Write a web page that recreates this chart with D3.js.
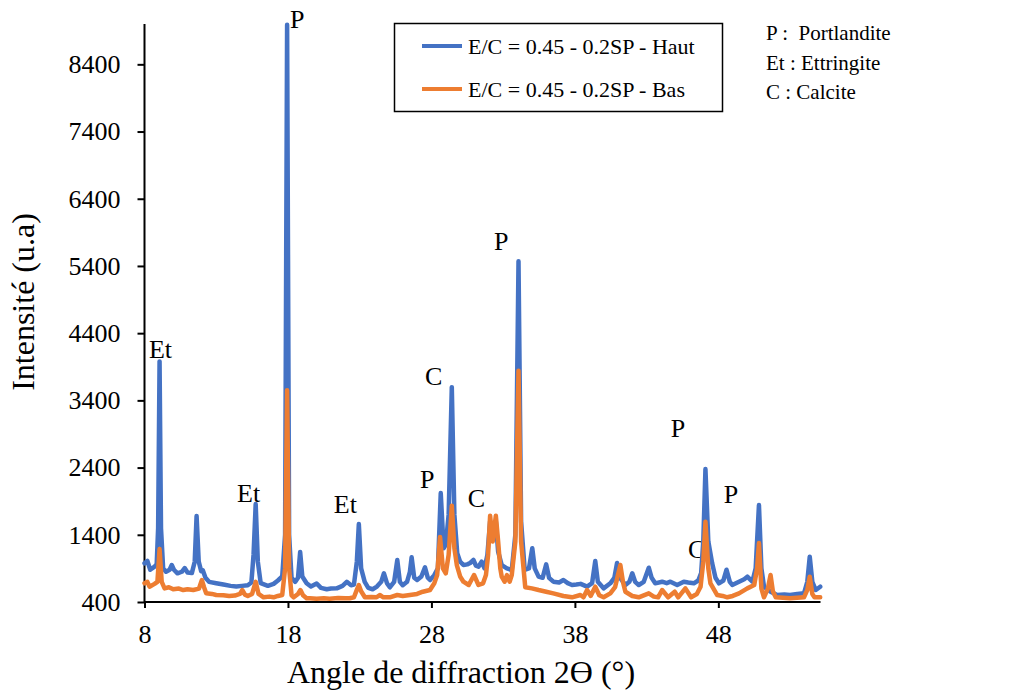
<!DOCTYPE html>
<html>
<head>
<meta charset="utf-8">
<script src="https://cdn.jsdelivr.net/npm/d3@7"></script>
<style>
  html, body { margin: 0; padding: 0; background: #fff; }
  svg { display: block; font-family: "Liberation Serif", "Times New Roman", serif; }
</style>
</head>
<body>
<svg id="chart" width="1019" height="693"></svg>
<script>
// ---------- DATA ----------
const seriesNames = ["E/C = 0.45 - 0.2SP - Haut", "E/C = 0.45 - 0.2SP - Bas"];
const seriesColors = ["#4472C4", "#ED7D31"];

const anglesHaut = [8.0,8.2,8.4,8.7,8.85,8.95,9.05,9.15,9.3,9.5,9.75,9.9,10.05,10.3,10.6,10.8,11.0,11.3,11.5,11.63,11.78,11.95,12.07,12.25,12.5,13.0,13.5,14.0,14.4,14.8,15.2,15.45,15.6,15.75,15.9,16.1,16.6,17.0,17.3,17.6,17.8,17.94,18.08,18.25,18.5,18.7,18.85,19.0,19.3,19.6,20.0,20.3,20.7,21.0,21.4,21.8,22.1,22.4,22.6,22.8,22.94,23.1,23.35,23.6,23.9,24.2,24.5,24.69,24.9,25.1,25.4,25.62,25.8,26.0,26.3,26.5,26.62,26.8,27.0,27.3,27.55,27.75,27.9,28.2,28.45,28.65,28.85,29.0,29.2,29.42,29.6,29.8,30.0,30.23,30.5,30.7,30.93,31.1,31.28,31.5,31.7,31.9,32.09,32.3,32.49,32.65,32.9,33.26,33.6,33.85,34.07,34.25,34.5,34.8,35.03,35.2,35.47,35.75,36.0,36.2,36.5,36.9,37.2,37.5,37.8,38.1,38.4,38.85,39.2,39.42,39.6,40.0,40.47,40.75,40.94,41.15,41.52,41.8,42.0,42.2,42.45,42.8,43.15,43.35,43.6,44.08,44.4,44.66,45.13,45.59,45.9,46.29,46.6,46.8,46.95,47.1,47.3,47.57,47.8,48.04,48.35,48.57,48.8,48.97,49.44,49.8,50.02,50.37,50.6,50.83,51.0,51.18,51.64,52.1,52.6,53.0,53.5,53.97,54.2,54.37,54.55,54.79,55.1];
const intensityHaut = [975,1010,880,925,960,1500,3980,1500,900,850,880,950,880,827,850,905,840,830,1000,1680,1000,860,870,760,700,680,660,640,630,640,650,690,1100,1857,1000,680,640,670,720,780,1400,8990,1400,760,700,760,1145,780,680,630,675,610,590,600,603,640,700,650,660,1000,1560,900,700,610,590,630,700,827,680,618,700,1025,700,650,700,850,1065,760,727,780,916,760,727,800,900,2021,1200,1250,1700,3597,1700,1124,1000,950,960,980,1025,940,925,1000,900,1100,1600,1450,1600,1150,950,900,876,1400,5470,1600,880,900,1200,900,777,760,960,760,702,690,727,680,653,660,670,628,680,1010,700,603,678,760,980,760,653,700,827,700,653,700,910,760,678,702,680,702,653,702,690,678,720,830,1300,2378,1300,975,760,678,720,880,700,653,702,740,777,702,900,1842,900,628,553,504,510,504,520,529,700,1073,700,578,628];

const anglesBas = [8.0,8.2,8.35,8.7,8.9,9.05,9.2,9.4,9.7,10.0,10.4,10.7,11.0,11.4,11.8,12.0,12.15,12.3,12.7,13.0,13.5,13.9,14.3,14.65,14.82,15.0,15.2,15.5,15.75,15.95,16.3,16.7,17.0,17.3,17.6,17.8,17.94,18.08,18.25,18.4,18.7,18.87,19.05,19.3,19.52,20.0,20.5,20.9,21.5,22.0,22.3,22.6,22.8,22.94,23.1,23.36,23.8,24.18,24.4,24.65,25.1,25.62,26.0,26.5,27.0,27.4,27.9,28.2,28.4,28.6,28.8,29.0,29.2,29.42,29.6,29.77,30.0,30.23,30.6,30.97,31.28,31.6,31.8,31.95,32.09,32.27,32.49,32.65,32.8,32.9,33.1,33.26,33.45,33.6,33.85,34.07,34.25,34.54,35.0,35.47,36.0,36.5,37.2,37.8,38.38,38.6,38.85,39.1,39.42,39.7,40.0,40.47,40.8,41.0,41.17,41.35,41.52,42.0,42.45,43.15,43.5,43.8,44.08,44.5,44.96,45.2,45.7,46.1,46.5,46.76,46.95,47.1,47.3,47.45,47.92,48.3,48.62,49.0,49.44,50.02,50.5,50.7,50.83,51.0,51.18,51.45,51.64,51.8,52.0,53.0,53.97,54.2,54.37,54.55,54.7,55.1];
const intensityBas = [678,700,628,670,700,1188,700,603,620,589,600,578,590,578,600,727,620,529,520,504,500,489,495,520,578,510,489,520,700,520,470,480,470,490,504,900,3550,900,500,470,520,578,500,455,455,450,455,450,460,455,455,470,580,653,560,470,475,470,504,470,470,504,490,504,520,553,578,680,800,1367,900,827,1100,1832,1200,950,780,702,653,802,653,678,800,1100,1683,1300,1683,1300,900,777,702,800,702,801,1300,3840,1300,620,603,578,553,529,489,470,504,470,578,490,628,500,470,529,620,800,950,700,553,489,470,529,480,470,578,470,553,470,603,470,520,628,1000,1594,900,678,504,490,470,490,529,603,653,900,1277,600,470,600,801,560,470,455,470,580,776,520,470,470];

const xTicks = [8, 18, 28, 38, 48];
const yTicks = [400, 1400, 2400, 3400, 4400, 5400, 6400, 7400, 8400];

const peakLabels = ["P", "Et", "Et", "Et", "P", "C", "C", "P", "P", "C", "P"];
const peakLabelAngles = [18.14, 8.31, 14.45, 21.2, 27.2, 27.55, 30.53, 32.36, 44.69, 45.88, 48.38];
const peakLabelIntensities = [8940, 4030, 1888, 1724, 2096, 3629, 1813, 5637, 2855, 1055, 1873];

const phaseLegend = ["P :  Portlandite", "Et : Ettringite", "C : Calcite"];

const xTitle = "Angle de diffraction 2\u03F4 (°)";
const yTitle = "Intensité (u.a)";

// ---------- CHART ----------
const FONT = "'Liberation Serif', 'Times New Roman', serif";
const svg = d3.select("#chart");
const x = d3.scaleLinear().domain([8, 55.12]).range([144.5, 820.5]);
const y = d3.scaleLinear().domain([400, 9000]).range([602, 24]);

// axes
const xAxis = svg.append("g").attr("transform", "translate(0,602)")
  .call(d3.axisBottom(x).tickValues(xTicks).tickSize(6).tickFormat(d3.format("d")));
xAxis.attr("font-family", FONT);
xAxis.select(".domain").attr("stroke", "#000").attr("stroke-width", 2).attr("d", `M${x.range()[0]},0H${x.range()[1]}`);
xAxis.selectAll(".tick line").attr("stroke", "#000").attr("stroke-width", 2);
xAxis.selectAll(".tick text").attr("y", 41).attr("dy", "0").attr("font-size", 26).attr("fill", "#000");

const yAxis = svg.append("g").attr("transform", "translate(144.5,0)")
  .call(d3.axisLeft(y).tickValues(yTicks).tickSize(7).tickPadding(17).tickFormat(d3.format("d")));
yAxis.attr("font-family", FONT);
yAxis.select(".domain").attr("stroke", "#000").attr("stroke-width", 2).attr("d", `M0,${y.range()[0] + 1}V${y.range()[1]}`);
yAxis.selectAll(".tick line").attr("stroke", "#000").attr("stroke-width", 2);
yAxis.selectAll(".tick text").attr("font-size", 26).attr("fill", "#000");

// lines
const line = d3.line().x(d => x(d[0])).y(d => y(d[1]));
const hautData = anglesHaut.map((a, i) => [a, intensityHaut[i]]);
const basData = anglesBas.map((a, i) => [a, intensityBas[i]]);

// peak labels (under lines)
svg.append("g").attr("font-family", FONT).selectAll("text").data(peakLabels).join("text")
  .attr("x", (d, i) => x(peakLabelAngles[i]))
  .attr("y", (d, i) => y(peakLabelIntensities[i]))
  .attr("font-size", 26).attr("fill", "#000")
  .text(d => d);

[hautData, basData].forEach((data, i) => {
  svg.append("path").datum(data)
    .attr("fill", "none")
    .attr("stroke", seriesColors[i])
    .attr("stroke-width", 4.5)
    .attr("stroke-linejoin", "round")
    .attr("stroke-linecap", "round")
    .attr("d", line);
});

// axis titles
svg.append("text").attr("x", 461).attr("y", 683).attr("text-anchor", "middle")
  .attr("font-family", FONT).attr("font-size", 32).attr("fill", "#000").text(xTitle);
svg.append("text").attr("transform", "translate(34,302) rotate(-90)").attr("text-anchor", "middle")
  .attr("font-family", FONT).attr("font-size", 32).attr("fill", "#000").text(yTitle);

// legend
const lg = svg.append("g").attr("font-family", FONT);
lg.append("rect").attr("x", 394.5).attr("y", 23.5).attr("width", 328).attr("height", 88)
  .attr("fill", "#fff").attr("stroke", "#000").attr("stroke-width", 1.5);
seriesNames.forEach((name, i) => {
  const cy = 46 + i * 43;
  lg.append("line").attr("x1", 422).attr("x2", 462).attr("y1", cy).attr("y2", cy)
    .attr("stroke", seriesColors[i]).attr("stroke-width", 4);
  lg.append("text").attr("x", 468).attr("y", cy + 7.5).attr("font-size", 22).attr("fill", "#000").text(name);
});

// phase legend
svg.append("g").attr("font-family", FONT).selectAll("text").data(phaseLegend).join("text")
  .attr("x", 766).attr("y", (d, i) => 40 + i * 29.5)
  .attr("font-size", 21).attr("fill", "#000")
  .style("white-space", "pre")
  .text(d => d);
</script>
</body>
</html>
